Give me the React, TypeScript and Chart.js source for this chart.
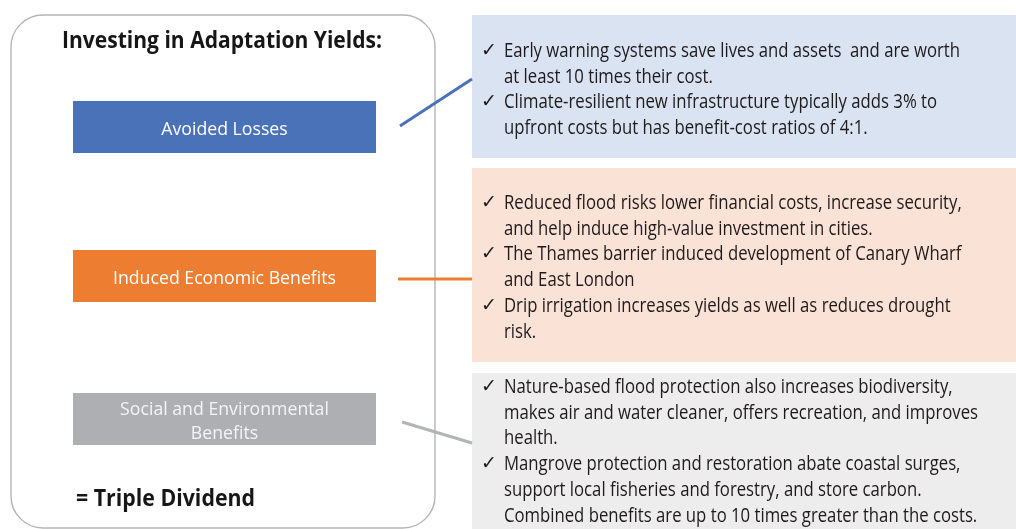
import React, { useEffect, useRef } from "react";
import { Chart, registerables } from "chart.js";

Chart.register(...registerables);

// ---------- Data (text content) ----------
const title = "Investing in Adaptation Yields:";
const conclusion = "= Triple Dividend";
const categories = [["Avoided Losses"], ["Induced Economic Benefits"], ["Social and Environmental", "Benefits"]];

const avoidedLossesBullets = [
  ["Early warning systems save lives and assets  and are worth", "at least 10 times their cost."],
  ["Climate-resilient new infrastructure typically adds 3% to", "upfront costs but has benefit-cost ratios of 4:1."],
];
const economicBenefitsBullets = [
  ["Reduced flood risks lower financial costs, increase security,", "and help induce high-value investment in cities."],
  ["The Thames barrier induced development of Canary Wharf", "and East London"],
  ["Drip irrigation increases yields as well as reduces drought", "risk."],
];
const socialBenefitsBullets = [
  ["Nature-based flood protection also increases biodiversity,", "makes air and water cleaner, offers recreation, and improves", "health."],
  ["Mangrove protection and restoration abate coastal surges,", "support local fisheries and forestry, and store carbon.", "Combined benefits are up to 10 times greater than the costs."],
];
const bulletGroups = [avoidedLossesBullets, economicBenefitsBullets, socialBenefitsBullets];

// ---------- Layout & style (kept apart from data) ----------
const W = 1016;
const H = 529;
const FONT = "'Open Sans', 'Noto Sans', sans-serif";
const frame = { x0: 11, y0: 15, x1: 435, y1: 528, r: 32 };
const boxX0 = 73;
const boxX1 = 376;
const boxTops = [101, 250, 393];
const boxH = 52;
const boxColors = ["#4A72B8", "#ED7D31", "#AEAFB2"];
const boxTextColors = ["#FFFFFF", "#FFFFFF", "#F4F4F4"];
const boxBaselines = [[135], [284], [415, 439]];
const panelX0 = 472;
const panelTops = [15, 168, 373];
const panelBottoms = [158, 362, 529];
const panelColors = ["#DAE3F1", "#FBE2D6", "#EDEDED"];
const panelFirstBaselines = [57, 209, 393];
const lineStep = 25.7;
const connectorStartX = [400, 398, 402];
const connectorStartY = [126, 279, 422];
const connectorEndY = [79, 279, 443];
const textColor = "#1E1A1B";

function drawText(ctx: CanvasRenderingContext2D, text: string, x: number, y: number, font: string, sx: number, align: CanvasTextAlign, color: string) {
  ctx.save();
  ctx.font = font;
  ctx.fillStyle = color;
  ctx.textAlign = align;
  ctx.textBaseline = "alphabetic";
  ctx.translate(x, y);
  ctx.scale(sx, 1);
  ctx.fillText(text, 0, 0);
  ctx.restore();
}

function fitScale(ctx: CanvasRenderingContext2D, text: string, font: string, target: number) {
  ctx.save();
  ctx.font = font;
  const w = ctx.measureText(text).width;
  ctx.restore();
  return w > 0 ? target / w : 1;
}

const diagramPlugin = {
  id: "diagram",
  beforeDatasetsDraw(chart: any) {
    const ctx: CanvasRenderingContext2D = chart.ctx;
    const xs = chart.scales.x;
    const ys = chart.scales.y;
    const px = (v: number) => xs.getPixelForValue(v);
    const py = (v: number) => ys.getPixelForValue(v);
    ctx.save();
    panelColors.forEach((c, i) => {
      ctx.fillStyle = c;
      ctx.fillRect(px(panelX0), py(panelTops[i]), px(W) - px(panelX0), py(panelBottoms[i]) - py(panelTops[i]));
    });
    ctx.beginPath();
    ctx.strokeStyle = "#B5B5B5";
    ctx.lineWidth = 1.4;
    (ctx as any).roundRect(px(frame.x0), py(frame.y0), px(frame.x1) - px(frame.x0), py(frame.y1) - py(frame.y0), frame.r);
    ctx.stroke();
    categories.forEach((_, i) => {
      ctx.fillStyle = boxColors[i];
      ctx.fillRect(px(boxX0), py(boxTops[i]), px(boxX1) - px(boxX0), py(boxTops[i] + boxH) - py(boxTops[i]));
    });
    ctx.restore();
  },
  afterDatasetsDraw(chart: any) {
    const ctx: CanvasRenderingContext2D = chart.ctx;
    const xs = chart.scales.x;
    const ys = chart.scales.y;
    const px = (v: number) => xs.getPixelForValue(v);
    const py = (v: number) => ys.getPixelForValue(v);

    const titleFont = `bold 23px ${FONT}`;
    const tScale = fitScale(ctx, title, titleFont, 320);
    drawText(ctx, title, px(222), py(48), titleFont, tScale, "center", "#161616");
    const cScale = fitScale(ctx, conclusion, titleFont, 179);
    drawText(ctx, conclusion, px(76), py(506), titleFont, cScale, "left", "#161616");

    const boxFont = `19px ${FONT}`;
    const bScale = fitScale(ctx, "Induced Economic Benefits", boxFont, 223);
    const cx = (boxX0 + boxX1) / 2;
    categories.forEach((lines, i) => {
      lines.forEach((ln, j) => {
        drawText(ctx, ln, px(cx), py(boxBaselines[i][j]), boxFont, bScale, "center", boxTextColors[i]);
      });
    });

    const panelFont = `19.5px ${FONT}`;
    const pScale = fitScale(ctx, avoidedLossesBullets[0][0], panelFont, 456);
    const checkFont = `19px 'DejaVu Sans', sans-serif`;
    bulletGroups.forEach((group, gi) => {
      let k = 0;
      group.forEach((bullet) => {
        bullet.forEach((ln, li) => {
          const y = py(panelFirstBaselines[gi] + k * lineStep);
          if (li === 0) drawText(ctx, "\u2713", px(481), y - 1, checkFont, 1, "left", textColor);
          drawText(ctx, ln, px(504), y, panelFont, pScale, "left", textColor);
          k++;
        });
      });
    });
  },
};

export default function App() {
  const ref = useRef<HTMLCanvasElement | null>(null);
  useEffect(() => {
    if (!ref.current) return;
    const connectorDatasets = boxColors.map((c, i) => ({
      label: categories[i].join(" "),
      data: [
        { x: connectorStartX[i], y: connectorStartY[i] },
        { x: panelX0, y: connectorEndY[i] },
      ],
      showLine: true,
      borderColor: c === "#AEAFB2" ? "#B3B4B6" : c,
      borderWidth: 3,
      pointRadius: 0,
      borderCapStyle: "butt" as const,
    }));
    const chart = new Chart(ref.current, {
      type: "scatter",
      data: { datasets: connectorDatasets },
      options: {
        animation: false,
        responsive: false,
        devicePixelRatio: 1,
        layout: { padding: 0 },
        scales: {
          x: { type: "linear", min: 0, max: W, display: false },
          y: { type: "linear", min: 0, max: H, reverse: true, display: false },
        },
        plugins: { legend: { display: false }, tooltip: { enabled: false } },
      },
      plugins: [diagramPlugin],
    });
    return () => chart.destroy();
  }, []);
  return (
    <div style={{ position: "absolute", left: 0, top: 0, width: W, height: H, background: "#FFFFFF" }}>
      <canvas ref={ref} width={W} height={H} style={{ display: "block" }} />
    </div>
  );
}
